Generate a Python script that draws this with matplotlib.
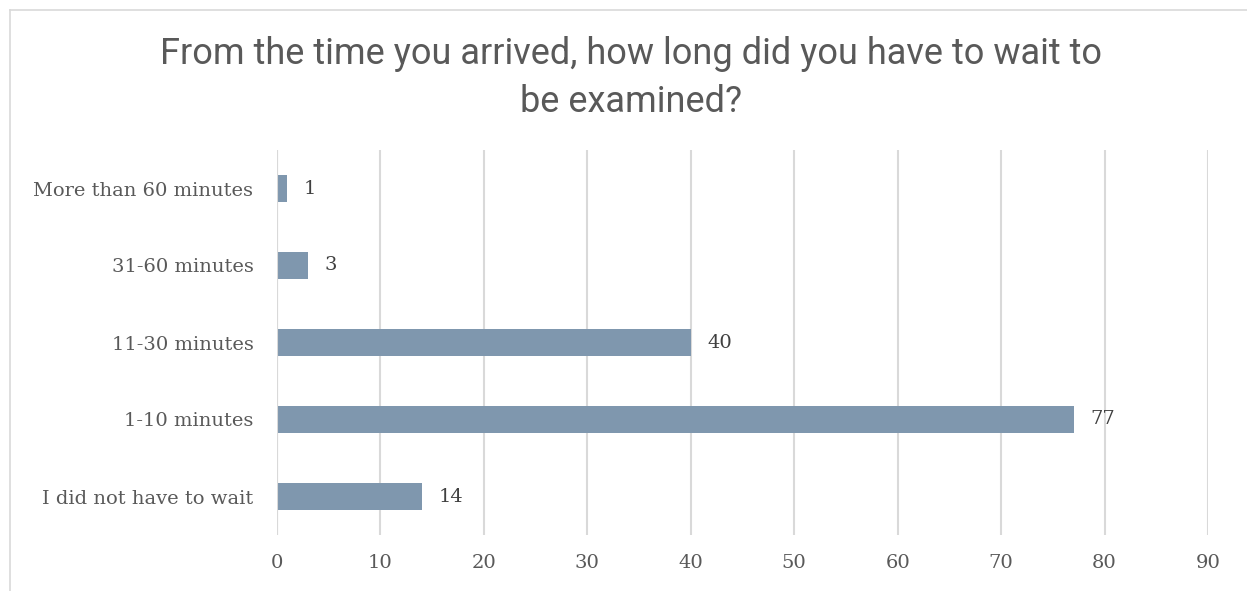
import matplotlib.pyplot as plt
from matplotlib.lines import Line2D

# Data
categories = ['I did not have to wait', '1-10 minutes', '11-30 minutes',
              '31-60 minutes', 'More than 60 minutes']
counts = [14, 77, 40, 3, 1]
xticks = [0, 10, 20, 30, 40, 50, 60, 70, 80, 90]

text_color = '#595959'
bar_color = '#7f97ae'
grid_color = '#d9d9d9'
serif = ['DejaVu Serif']

fig = plt.figure(figsize=(12.47, 5.91), dpi=100)
ax = fig.add_axes([277 / 1247, 1 - 535 / 591, (1208 - 277) / 1247, (535 - 150) / 591])

y = range(len(categories))
ax.barh(y, counts, height=0.34, color=bar_color, zorder=3)
for yi, v in zip(y, counts):
    ax.text(v + 1.6, yi, str(v), va='center', ha='left', fontsize=14,
            color='#404040', family=serif)

ax.set_xlim(0, 90)
ax.set_ylim(-0.5, 4.5)
ax.set_xticks(xticks)
ax.set_yticks(list(y))
ax.set_yticklabels(categories)
ax.tick_params(axis='both', length=0, labelsize=14, colors=text_color)
ax.tick_params(axis='y', pad=17)
ax.tick_params(axis='x', pad=14)
for lab in ax.get_xticklabels() + ax.get_yticklabels():
    lab.set_family(serif)
ax.grid(axis='x', color=grid_color, linewidth=1.5, zorder=0)
for s in ax.spines.values():
    s.set_visible(False)
ax.axvline(0, color=grid_color, linewidth=1.5, zorder=4)

fig.text(0.506, 1 - 78 / 591,
         'From the time you arrived, how long did you have to wait to\nbe examined?',
         ha='center', va='center', fontsize=26, color=text_color,
         family=['Roboto', 'DejaVu Sans'], linespacing=1.4)

# chart frame (top and left edges)
fig.add_artist(Line2D([10 / 1247, 10 / 1247], [0, 1 - 10 / 591], color=grid_color, lw=1.2))
fig.add_artist(Line2D([10 / 1247, 1], [1 - 10 / 591, 1 - 10 / 591], color=grid_color, lw=1.2))

fig.savefig('out.png', dpi=100)
